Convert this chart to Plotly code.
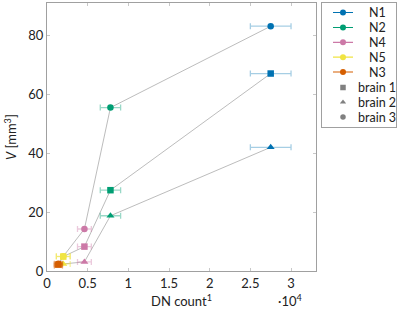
import plotly.graph_objects as go

neurons = ["N1", "N2", "N4", "N5", "N3"]
colors = ["#0072B2", "#009E73", "#CC79A7", "#F0E442", "#D55E00"]
err_colors = ["rgba(0,114,178,0.35)", "rgba(0,158,115,0.4)", "rgba(204,121,167,0.4)",
              "rgba(240,228,66,0.5)", "rgba(213,94,0,0.4)"]
# DN count (x 10^4) per neuron and its error
dn_count = [2.75, 0.78, 0.46, 0.20, 0.14]
dn_err = [0.25, 0.125, 0.085, 0.085, 0.05]
brains = ["brain 1", "brain 2", "brain 3"]
brain_symbols = ["square", "triangle-up", "circle"]
# volume per brain, ordered as neurons
vol_brain1 = [67.2, 27.5, 8.3, 4.9, 2.2]
vol_brain2 = [42.1, 18.8, 3.1, 2.4, 1.8]
vol_brain3 = [83.3, 55.6, 14.3, 5.0, 2.5]
volumes = [vol_brain1, vol_brain2, vol_brain3]

x_ticks = [0, 0.5, 1, 1.5, 2, 2.5, 3]
x_ticktext = ["0", "0.5", "1", "1.5", "2", "2.5", "3"]
y_ticks = [0, 20, 40, 60, 80]

font = "Lato, 'DejaVu Sans', sans-serif"
W, H = 400, 312
ML, MR, MT, MB = 47, 3, 3, 41
PW = W - ML - MR  # 350
PH = H - MT - MB  # 268
main_right = 269 / PW

fig = go.Figure()

# gray connecting lines per brain (sorted by count)
order = sorted(range(len(neurons)), key=lambda i: dn_count[i])
for b, vols in enumerate(volumes):
    fig.add_trace(go.Scatter(
        x=[dn_count[i] for i in order], y=[vols[i] for i in order],
        mode="lines", line=dict(color="#b4b4b4", width=0.9),
        showlegend=False, hoverinfo="skip"))

# markers with error bars per neuron
for n, name in enumerate(neurons):
    for b in range(3):
        fig.add_trace(go.Scatter(
            x=[dn_count[n]], y=[volumes[b][n]], mode="markers",
            marker=dict(symbol=brain_symbols[b], color=colors[n], size=6.5 if b != 1 else 7,
                        line=dict(width=0)),
            error_x=dict(type="data", array=[dn_err[n]], color=err_colors[n],
                         thickness=1.3, width=3),
            showlegend=False))

# ---- legend drawn in an inset axis (pixel-like coordinates) ----
leg_rows_n = [12.5, 27.5, 42.3, 57.2, 72.0]
leg_rows_b = [87.5, 102.2, 117.0]
for n, name in enumerate(neurons):
    yy = leg_rows_n[n]
    fig.add_trace(go.Scatter(x=[333, 353], y=[yy, yy], mode="lines",
                             line=dict(color=colors[n], width=1.2),
                             xaxis="x2", yaxis="y2", showlegend=False, hoverinfo="skip"))
    fig.add_trace(go.Scatter(x=[343], y=[yy], mode="markers",
                             marker=dict(symbol="circle", color=colors[n], size=6),
                             xaxis="x2", yaxis="y2", showlegend=False, hoverinfo="skip"))
for b, name in enumerate(brains):
    fig.add_trace(go.Scatter(x=[343], y=[leg_rows_b[b]], mode="markers",
                             marker=dict(symbol=brain_symbols[b], color="#808080", size=5.5),
                             xaxis="x2", yaxis="y2", showlegend=False, hoverinfo="skip"))

annotations = []
for n, name in enumerate(neurons):
    annotations.append(dict(text=name, xref="x2", yref="y2", x=366.5, y=leg_rows_n[n],
                            xanchor="left", yanchor="middle", showarrow=False,
                            font=dict(size=12.5)))
for b, name in enumerate(brains):
    annotations.append(dict(text=name, xref="x2", yref="y2", x=356, y=leg_rows_b[b],
                            xanchor="left", yanchor="middle", showarrow=False,
                            font=dict(size=12.5)))
annotations.append(dict(text="·10<sup>4</sup>", xref="paper", yref="paper",
                        x=(290 - ML) / PW, y=-(300 - 271) / PH,
                        showarrow=False, xanchor="center", yanchor="middle",
                        font=dict(size=13)))

leg_x0, leg_x1 = 322.3, 396.0
leg_y_top, leg_y_bot = 3.0, 127.0

fig.update_layout(
    width=W, height=H,
    margin=dict(l=ML, r=MR, t=MT, b=MB),
    plot_bgcolor="white", paper_bgcolor="white",
    font=dict(family=font, size=13, color="#222"),
    showlegend=False,
    xaxis=dict(domain=[0, main_right], range=[0, 3.307], tickvals=x_ticks,
               ticktext=x_ticktext, automargin=False,
               showgrid=False, zeroline=False, showline=True, linecolor="#a0a0a0",
               mirror="ticks", ticks="inside", ticklen=3, tickcolor="#c8c8c8",
               tickfont=dict(size=13),
               title=dict(text="DN count<sup>1</sup>", standoff=7, font=dict(size=13))),
    yaxis=dict(domain=[0, 1], range=[0, 91.2], tickvals=y_ticks, automargin=False,
               showgrid=False, zeroline=False, showline=True, linecolor="#a0a0a0",
               mirror="ticks", ticks="inside", ticklen=3, tickcolor="#c8c8c8",
               tickfont=dict(size=13),
               title=dict(text="<i>V</i> [mm<sup>3</sup>]", standoff=8, font=dict(size=13))),
    xaxis2=dict(domain=[(leg_x0 - ML) / PW, (leg_x1 - ML) / PW], range=[leg_x0, leg_x1],
                anchor="y2", showgrid=False, zeroline=False, showticklabels=False,
                ticks="", showline=True, mirror=True, linecolor="#a0a0a0",
                fixedrange=True, automargin=False),
    yaxis2=dict(domain=[(271 - leg_y_bot) / PH, (271 - leg_y_top) / PH],
                range=[leg_y_bot, leg_y_top], anchor="x2",
                showgrid=False, zeroline=False, showticklabels=False, ticks="",
                showline=True, mirror=True, linecolor="#a0a0a0",
                fixedrange=True, automargin=False),
    annotations=annotations,
)

fig.write_html("out.html", config={"displayModeBar": False},
               post_script="document.body.style.margin='0';")
